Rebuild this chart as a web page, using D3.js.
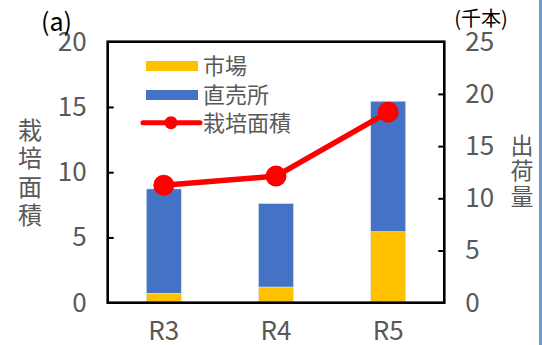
<!DOCTYPE html>
<html>
<head>
<meta charset="utf-8">
<script src="https://cdn.jsdelivr.net/npm/d3@7"></script>
<style>
  html, body { margin: 0; padding: 0; background: #fff; }
  svg { display: block; font-family: "Noto Sans CJK JP", "Noto Sans", sans-serif; }
</style>
</head>
<body>
<svg id="chart" width="542" height="345"></svg>
<script>
// 年度
const categories = ["R3", "R4", "R5"];
// 出荷量（千本）: 市場・直売所
const marketValues = [0.9, 1.5, 6.8];
const directValues = [10.0, 8.0, 12.5];
// 栽培面積
const areaValues = [9.0, 9.7, 14.6];
// 目盛
const leftTicks = [0, 5, 10, 15, 20];
const rightTicks = [0, 5, 10, 15, 20, 25];
const seriesNames = ["市場", "直売所", "栽培面積"];

const colMarket = "#ffc000", colDirect = "#4472c4", colArea = "#ff0000";
const textGrey = "#595959";

const svg = d3.select("#chart");
const plot = { left: 107.7, right: 444.3, top: 41.7, bottom: 302.7 };

const x = d3.scaleBand().domain(categories)
  .range([plot.left, plot.right]).paddingInner(0.688).paddingOuter(0.344);
const yL = d3.scaleLinear().domain([0, 20]).range([plot.bottom, plot.top]);
const yR = d3.scaleLinear().domain([0, 25]).range([plot.bottom, plot.top]);

// 積み上げ棒（右軸）
const rows = categories.map((c, i) => ({ cat: c, market: marketValues[i], direct: directValues[i] }));
const stack = d3.stack().keys(["market", "direct"])(rows);
const colors = { market: colMarket, direct: colDirect };
svg.append("g").selectAll("g").data(stack).join("g")
  .attr("fill", d => colors[d.key])
  .selectAll("rect").data(d => d).join("rect")
  .attr("x", d => x(d.data.cat))
  .attr("width", x.bandwidth())
  .attr("y", d => yR(d[1]))
  .attr("height", d => yR(d[0]) - yR(d[1]))
  .attr("stroke", "#dbe6f5").attr("stroke-width", 0.6);

// 軸
const axL = svg.append("g").attr("transform", `translate(${plot.left},0)`)
  .call(d3.axisLeft(yL).tickValues(leftTicks).tickSize(-6).tickPadding(21));
const axR = svg.append("g").attr("transform", `translate(${plot.right},0)`)
  .call(d3.axisRight(yR).tickValues(rightTicks).tickSize(-6).tickPadding(21));
[axL, axR].forEach(a => {
  a.select(".domain").remove();
  a.selectAll(".tick line").attr("stroke", "#000").attr("stroke-width", 2);
  a.selectAll(".tick text").attr("fill", textGrey).attr("font-size", 26)
    .attr("font-family", "'Noto Sans CJK JP', sans-serif");
});
axR.selectAll(".tick").filter(d => d === 0 || d === 25).select("line").remove();
axL.selectAll(".tick").filter(d => d === 0 || d === 20).select("line").remove();

// 枠
svg.append("rect")
  .attr("x", plot.left).attr("y", plot.top)
  .attr("width", plot.right - plot.left).attr("height", plot.bottom - plot.top)
  .attr("fill", "none").attr("stroke", "#000").attr("stroke-width", 2.6);

// 栽培面積（左軸）
const line = d3.line().x((d, i) => x(categories[i]) + x.bandwidth() / 2).y(d => yL(d));
svg.append("path").datum(areaValues)
  .attr("d", line).attr("fill", "none")
  .attr("stroke", colArea).attr("stroke-width", 5.5).attr("stroke-linejoin", "round");
svg.append("g").selectAll("circle").data(areaValues).join("circle")
  .attr("cx", (d, i) => x(categories[i]) + x.bandwidth() / 2)
  .attr("cy", d => yL(d)).attr("r", 10.5).attr("fill", colArea);

// X軸ラベル
svg.append("g").selectAll("text").data(categories).join("text")
  .attr("x", d => x(d) + x.bandwidth() / 2).attr("y", 339.5)
  .attr("text-anchor", "middle").attr("fill", textGrey).attr("font-size", 26)
  .text(d => d);

// 凡例
const lg = svg.append("g");
lg.append("rect").attr("x", 146).attr("y", 61).attr("width", 52).attr("height", 10).attr("fill", colMarket);
lg.append("rect").attr("x", 146).attr("y", 90).attr("width", 52).attr("height", 10).attr("fill", colDirect);
lg.append("line").attr("x1", 143).attr("x2", 200).attr("y1", 122.7).attr("y2", 122.7)
  .attr("stroke", colArea).attr("stroke-width", 5).attr("stroke-linecap", "round");
lg.append("circle").attr("cx", 171).attr("cy", 122.7).attr("r", 6.5).attr("fill", colArea);
lg.selectAll("text").data(seriesNames).join("text")
  .attr("x", 203).attr("y", (d, i) => [66, 95, 123][i])
  .attr("dy", "0.36em").attr("fill", textGrey).attr("font-size", 22)
  .text(d => d);

// 軸タイトル（縦書き）
svg.append("text")
  .attr("x", 30).attr("y", 118)
  .attr("writing-mode", "vertical-rl")
  .attr("letter-spacing", 4.2)
  .attr("fill", textGrey).attr("font-size", 24).text("栽培面積");
svg.append("text")
  .attr("x", 522).attr("y", 134)
  .attr("writing-mode", "vertical-rl")
  .attr("letter-spacing", 2.2)
  .attr("fill", textGrey).attr("font-size", 23).text("出荷量");

// 注記
svg.append("text").attr("x", 41).attr("y", 21.5).attr("dy", "0.36em")
  .attr("fill", "#000").attr("font-size", 25).text("(a)");
svg.append("text").attr("x", 481).attr("y", 18.5).attr("dy", "0.36em")
  .attr("text-anchor", "middle").attr("fill", "#000").attr("font-size", 20).text("(千本)");

// 右端の罫線
svg.append("line").attr("x1", 540.5).attr("x2", 540.5).attr("y1", 0).attr("y2", 345)
  .attr("stroke", "#6f9bd1").attr("stroke-width", 3);
</script>
</body>
</html>
